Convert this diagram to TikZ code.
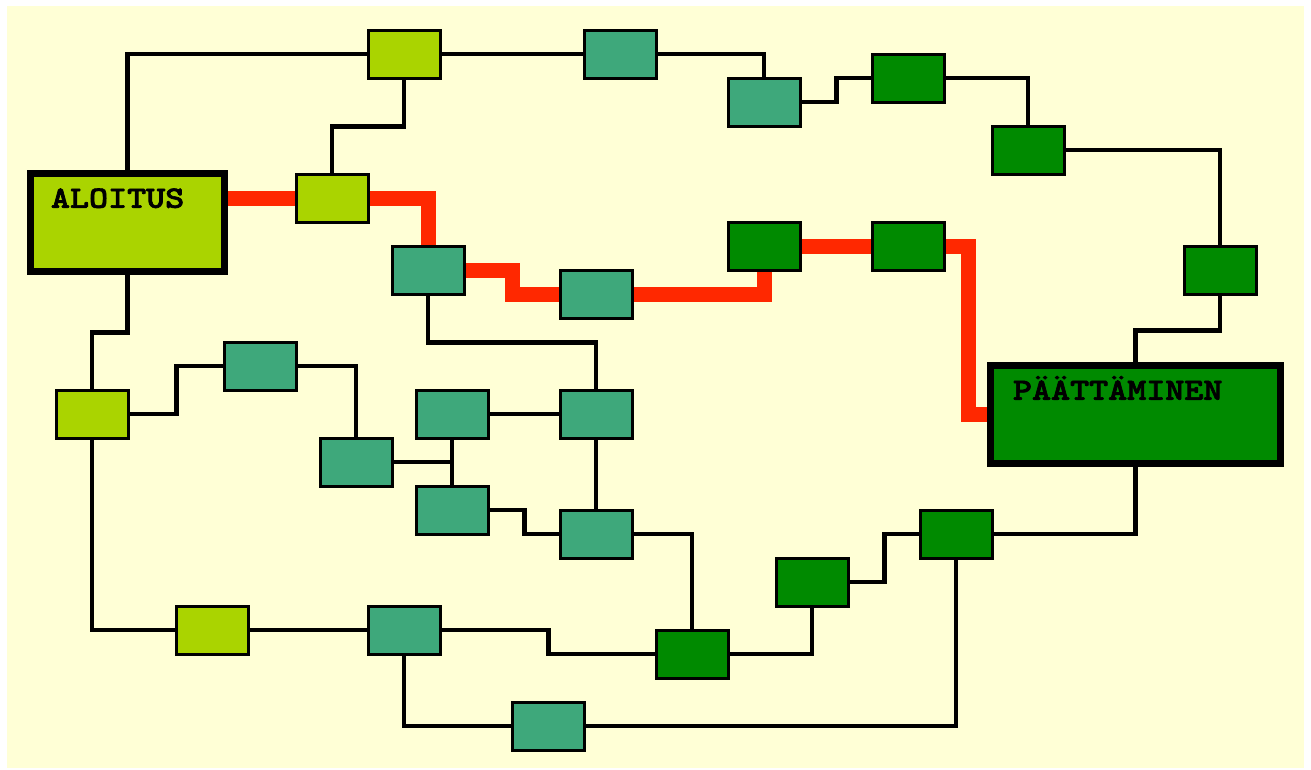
\documentclass[tikz,border=0pt]{standalone}
\usepackage{fontspec}
\newfontfamily\labfont{lmmonolt10-bold.otf}[FakeBold=2]
\definecolor{bgyellow}{HTML}{FFFFD6}
\definecolor{lgreen}{HTML}{AAD400}
\definecolor{teal}{HTML}{3EA87B}
\definecolor{dgreen}{HTML}{008A00}
\definecolor{redpath}{HTML}{FF2800}
\tikzset{
  box/.style={draw=black, line width=2pt, minimum width=71pt, minimum height=47pt, inner sep=0pt},
  lbox/.style={box, fill=lgreen},
  tbox/.style={box, fill=teal},
  gbox/.style={box, fill=dgreen},
  bigbox/.style={draw=black, line width=4.5pt, minimum width=192pt, minimum height=96pt, inner sep=0pt},
  wire/.style={draw=black, line width=4.5pt},
  crit/.style={draw=redpath, line width=15pt},
  boxlabel/.style={anchor=base west, inner sep=0pt, transform shape, xscale=1.17,
    font=\labfont\fontsize{31}{35}\selectfont}
}
\begin{document}
\begin{tikzpicture}[x=1pt,y=-1pt]
\useasboundingbox (0,0) rectangle (1311,769);
\fill[white] (0,0) rectangle (1311,769);
\fill[bgyellow] (7,6) rectangle (1304,768);

% big boxes
\node[bigbox, fill=lgreen] (start) at (127.5,222.5) {};
\node[bigbox, fill=dgreen, minimum width=288pt] (finish) at (1135.5,414.5) {};
\node[boxlabel] (startlbl) at ([shift={(21.5,35.5)}]start.north west) {ALOITUS};
\node[boxlabel] (finishlbl) at ([shift={(23.5,35.5)}]finish.north west) {PÄÄTTÄMINEN};

% light green boxes
\node[lbox] (L1) at (404,54) {};
\node[lbox] (L2) at (332,198) {};
\node[lbox] (L3) at (92,414) {};
\node[lbox] (L4) at (212,630) {};

% teal boxes
\node[tbox] (T1) at (620,54) {};
\node[tbox] (T2) at (764,102) {};
\node[tbox] (T3) at (428,270) {};
\node[tbox] (T4) at (596,294) {};
\node[tbox] (T5) at (260,366) {};
\node[tbox] (T6) at (356,462) {};
\node[tbox] (T7) at (452,414) {};
\node[tbox] (T8) at (596,414) {};
\node[tbox] (T9) at (452,510) {};
\node[tbox] (T10) at (596,534) {};
\node[tbox] (T11) at (404,630) {};
\node[tbox] (T12) at (548,726) {};

% dark green boxes
\node[gbox] (G1) at (908,78) {};
\node[gbox] (G2) at (1028,150) {};
\node[gbox] (G3) at (1220,270) {};
\node[gbox] (G4) at (764,246) {};
\node[gbox] (G5) at (908,246) {};
\node[gbox] (G6) at (956,534) {};
\node[gbox] (G7) at (812,582) {};
\node[gbox] (G8) at (692,654) {};

% black connectors
\path[wire] (start.north) |- (L1.west);
\path[wire] (L1.east) -- (T1.west);
\path[wire] (T1.east) -| (T2.north);
\path[wire] (T2.east) -- ++(36,0) |- (G1.west);
\path[wire] (G1.east) -| (G2.north);
\path[wire] (G2.east) -| (G3.north);
\path[wire] (G3.south) -- ++(0,36) -| (finish.north);
\path[wire] (L1.south) -- ++(0,48) -| (L2.north);
\path[wire] (start.south) -- ++(0,59.5) -| (L3.north);
\path[wire] (L3.east) -- ++(48,0) |- (T5.west);
\path[wire] (T5.east) -| (T6.north);
\path[wire] (T7.south) -- (T9.north);
\path[wire] (T6.east) -- (T7.south |- T6.east);
\path[wire] (T7.east) -- (T8.west);
\path[wire] (T3.south) -- ++(0,48) -| (T8.north);
\path[wire] (T8.south) -- (T10.north);
\path[wire] (T9.east) -- ++(36,0) |- (T10.west);
\path[wire] (T10.east) -| (G8.north);
\path[wire] (L3.south) |- (L4.west);
\path[wire] (L4.east) -- (T11.west);
\path[wire] (T11.east) -- ++(108,0) |- (G8.west);
\path[wire] (G8.east) -| (G7.south);
\path[wire] (G7.east) -- ++(36,0) |- (G6.west);
\path[wire] (G6.east) -| (finish.south);
\path[wire] (T11.south) |- (T12.west);
\path[wire] (T12.east) -| (G6.south);

% critical path
\path[crit] (start.east |- L2.west) -- (L2.west);
\path[crit] (L2.east) -| (T3.north);
\path[crit] (T3.east) -- ++(48,0) |- (T4.west);
\path[crit] (T4.east) -| (G4.south);
\path[crit] (G4.east) -- (G5.west);
\path[crit] (G5.east) -- ++(24,0) |- (finish.west);

% redraw box borders on top so line ends sit under them
\foreach \n in {L1,L2,L3,L4,T1,T2,T3,T4,T5,T6,T7,T8,T9,T10,T11,T12,G1,G2,G3,G4,G5,G6,G7,G8} {
  \draw[line width=2pt] (\n.north west) rectangle (\n.south east);
}
\draw[line width=4.5pt] (start.north west) rectangle (start.south east);
\draw[line width=4.5pt] (finish.north west) rectangle (finish.south east);
\end{tikzpicture}
\end{document}
